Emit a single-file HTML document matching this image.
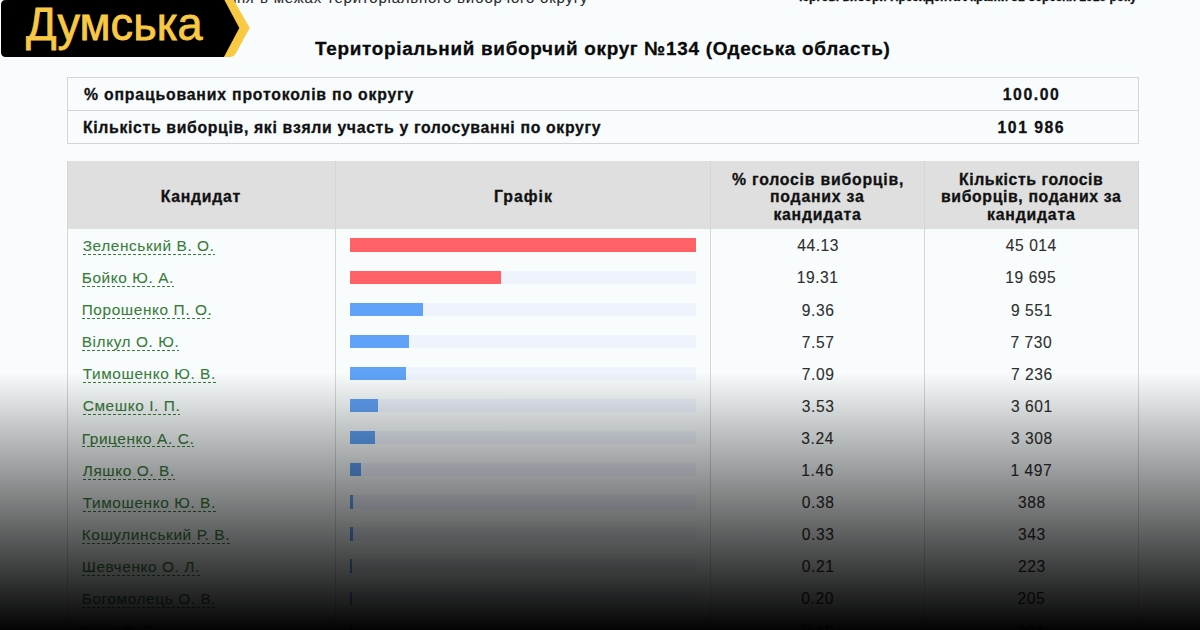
<!DOCTYPE html><html><head><meta charset="utf-8"><style>
*{margin:0;padding:0;box-sizing:border-box}
html,body{width:1200px;height:630px;overflow:hidden;background:#f8fcfd;font-family:"Liberation Sans",sans-serif;color:#111}
.a{position:absolute;white-space:nowrap;line-height:1}
.b{font-weight:bold;-webkit-text-stroke:0.3px currentColor}
.a:not(.b){-webkit-text-stroke:0.1px currentColor}
.ln{position:absolute;background:#d3d5d7}
.name{background-image:repeating-linear-gradient(to right,#3a7d3a 0,#3a7d3a 3px,transparent 3px,transparent 5px);background-repeat:repeat-x;background-size:100% 1px;background-position:0 100%}
.ov{position:absolute;left:0;top:372px;width:1200px;height:258px;background:linear-gradient(to bottom,rgba(0,0,0,0) 0%,rgba(0,0,0,0.99) 100%)}
</style></head><body><div style="position:absolute;left:67px;top:161px;width:1072px;height:68px;background:#dfdfdf"></div>
<div class="ln" style="left:67px;top:77px;width:1072px;height:1px"></div>
<div class="ln" style="left:67px;top:110px;width:1072px;height:1px"></div>
<div class="ln" style="left:67px;top:143px;width:1072px;height:1px"></div>
<div class="ln" style="left:67px;top:77px;width:1px;height:67px"></div>
<div class="ln" style="left:1138px;top:77px;width:1px;height:67px"></div>
<div class="ln" style="left:67px;top:161px;width:1px;height:480px"></div>
<div class="ln" style="left:335px;top:161px;width:1px;height:480px"></div>
<div class="ln" style="left:710px;top:161px;width:1px;height:480px"></div>
<div class="ln" style="left:924px;top:161px;width:1px;height:480px"></div>
<div class="ln" style="left:1138px;top:161px;width:1px;height:480px"></div>
<div style="position:absolute;left:350px;top:238.40px;width:346px;height:13.4px;background:#eef3fc"></div>
<div style="position:absolute;left:350px;top:238.40px;width:346.00px;height:13.4px;background:#ff6266"></div>
<div style="position:absolute;left:350px;top:270.50px;width:346px;height:13.4px;background:#eef3fc"></div>
<div style="position:absolute;left:350px;top:270.50px;width:151.40px;height:13.4px;background:#ff6266"></div>
<div style="position:absolute;left:350px;top:302.60px;width:346px;height:13.4px;background:#eef3fc"></div>
<div style="position:absolute;left:350px;top:302.60px;width:73.39px;height:13.4px;background:#5fa2f7"></div>
<div style="position:absolute;left:350px;top:334.70px;width:346px;height:13.4px;background:#eef3fc"></div>
<div style="position:absolute;left:350px;top:334.70px;width:59.35px;height:13.4px;background:#5fa2f7"></div>
<div style="position:absolute;left:350px;top:366.80px;width:346px;height:13.4px;background:#eef3fc"></div>
<div style="position:absolute;left:350px;top:366.80px;width:55.59px;height:13.4px;background:#5fa2f7"></div>
<div style="position:absolute;left:350px;top:398.90px;width:346px;height:13.4px;background:#eef3fc"></div>
<div style="position:absolute;left:350px;top:398.90px;width:27.68px;height:13.4px;background:#5fa2f7"></div>
<div style="position:absolute;left:350px;top:431.00px;width:346px;height:13.4px;background:#eef3fc"></div>
<div style="position:absolute;left:350px;top:431.00px;width:25.40px;height:13.4px;background:#5fa2f7"></div>
<div style="position:absolute;left:350px;top:463.10px;width:346px;height:13.4px;background:#eef3fc"></div>
<div style="position:absolute;left:350px;top:463.10px;width:11.45px;height:13.4px;background:#5fa2f7"></div>
<div style="position:absolute;left:350px;top:495.20px;width:346px;height:13.4px;background:#eef3fc"></div>
<div style="position:absolute;left:350px;top:495.20px;width:2.98px;height:13.4px;background:#5fa2f7"></div>
<div style="position:absolute;left:350px;top:527.30px;width:346px;height:13.4px;background:#eef3fc"></div>
<div style="position:absolute;left:350px;top:527.30px;width:2.59px;height:13.4px;background:#5fa2f7"></div>
<div style="position:absolute;left:350px;top:559.40px;width:346px;height:13.4px;background:#eef3fc"></div>
<div style="position:absolute;left:350px;top:559.40px;width:1.65px;height:13.4px;background:#5fa2f7"></div>
<div style="position:absolute;left:350px;top:591.50px;width:346px;height:13.4px;background:#eef3fc"></div>
<div style="position:absolute;left:350px;top:591.50px;width:1.60px;height:13.4px;background:#5fa2f7"></div>
<div style="position:absolute;left:350px;top:623.60px;width:346px;height:13.4px;background:#eef3fc"></div>
<div style="position:absolute;left:350px;top:623.60px;width:1.60px;height:13.4px;background:#5fa2f7"></div>
<div class="a b" style="left:315.00px;top:40.00px;font-size:18.9px;letter-spacing:0.697px;color:#0a0a0a">Територіальний виборчий округ №134 (Одеська область)</div>
<div class="a b" style="left:84.00px;top:87.33px;font-size:15.8px;letter-spacing:0.812px;color:#111">% опрацьованих протоколів по округу</div>
<div class="a b" style="left:83.00px;top:120.33px;font-size:15.8px;letter-spacing:0.661px;color:#111">Кількість виборців, які взяли участь у голосуванні по округу</div>
<div class="a b" style="left:1002.80px;top:87.33px;font-size:15.8px;letter-spacing:1.534px;color:#111">100.00</div>
<div class="a b" style="left:997.60px;top:120.33px;font-size:15.8px;letter-spacing:1.481px;color:#111">101 986</div>
<div class="a b" style="left:160.70px;top:189.13px;font-size:15.8px;letter-spacing:0.712px;color:#111">Кандидат</div>
<div class="a b" style="left:494.00px;top:189.13px;font-size:15.8px;letter-spacing:1.000px;color:#111">Графік</div>
<div class="a b" style="left:732.00px;top:171.73px;font-size:15.8px;letter-spacing:0.784px;color:#111">% голосів виборців,</div>
<div class="a b" style="left:770.00px;top:189.13px;font-size:15.8px;letter-spacing:0.793px;color:#111">поданих за</div>
<div class="a b" style="left:773.40px;top:206.53px;font-size:15.8px;letter-spacing:0.760px;color:#111">кандидата</div>
<div class="a b" style="left:959.00px;top:171.73px;font-size:15.8px;letter-spacing:0.577px;color:#111">Кількість голосів</div>
<div class="a b" style="left:941.00px;top:189.13px;font-size:15.8px;letter-spacing:0.635px;color:#111">виборців, поданих за</div>
<div class="a b" style="left:987.00px;top:206.53px;font-size:15.8px;letter-spacing:0.810px;color:#111">кандидата</div>
<div class="a b" style="left:794.00px;top:-9.16px;font-size:12px;letter-spacing:-0.018px;color:#111">Чергові вибори Президента України 31 березня 2019 року</div>
<div class="a" style="left:164.37px;top:-10.20px;font-size:15px;letter-spacing:0.300px;color:#2a2a2a">голосування</div>
<div class="a" style="left:260.00px;top:-10.20px;font-size:15px;letter-spacing:0.782px;color:#2a2a2a">в межах територіального виборчого округу</div>
<div class="a name" style="left:82.70px;top:237.96px;font-size:15.4px;letter-spacing:0.594px;color:#3a7d3a;padding-bottom:1.5px">Зеленський В. О.</div>
<div class="a" style="left:797.20px;top:238.39px;font-size:15.6px;letter-spacing:0.562px;color:#2e2e2e">44.13</div>
<div class="a" style="left:1005.78px;top:238.39px;font-size:15.6px;letter-spacing:0.562px;color:#2e2e2e">45 014</div>
<div class="a name" style="left:81.70px;top:270.06px;font-size:15.4px;letter-spacing:0.594px;color:#3a7d3a;padding-bottom:1.5px">Бойко Ю. А.</div>
<div class="a" style="left:796.70px;top:270.49px;font-size:15.6px;letter-spacing:0.562px;color:#2e2e2e">19.31</div>
<div class="a" style="left:1005.28px;top:270.49px;font-size:15.6px;letter-spacing:0.562px;color:#2e2e2e">19 695</div>
<div class="a name" style="left:81.70px;top:302.16px;font-size:15.4px;letter-spacing:0.594px;color:#3a7d3a;padding-bottom:1.5px">Порошенко П. О.</div>
<div class="a" style="left:801.82px;top:302.59px;font-size:15.6px;letter-spacing:0.562px;color:#2e2e2e">9.36</div>
<div class="a" style="left:1010.90px;top:302.59px;font-size:15.6px;letter-spacing:0.562px;color:#2e2e2e">9 551</div>
<div class="a name" style="left:81.70px;top:334.26px;font-size:15.4px;letter-spacing:0.594px;color:#3a7d3a;padding-bottom:1.5px">Вілкул О. Ю.</div>
<div class="a" style="left:801.82px;top:334.69px;font-size:15.6px;letter-spacing:0.562px;color:#2e2e2e">7.57</div>
<div class="a" style="left:1010.40px;top:334.69px;font-size:15.6px;letter-spacing:0.562px;color:#2e2e2e">7 730</div>
<div class="a name" style="left:82.70px;top:366.36px;font-size:15.4px;letter-spacing:0.594px;color:#3a7d3a;padding-bottom:1.5px">Тимошенко Ю. В.</div>
<div class="a" style="left:801.82px;top:366.79px;font-size:15.6px;letter-spacing:0.562px;color:#2e2e2e">7.09</div>
<div class="a" style="left:1010.90px;top:366.79px;font-size:15.6px;letter-spacing:0.562px;color:#2e2e2e">7 236</div>
<div class="a name" style="left:82.70px;top:398.46px;font-size:15.4px;letter-spacing:0.594px;color:#3a7d3a;padding-bottom:1.5px">Смешко І. П.</div>
<div class="a" style="left:801.82px;top:398.89px;font-size:15.6px;letter-spacing:0.562px;color:#2e2e2e">3.53</div>
<div class="a" style="left:1010.90px;top:398.89px;font-size:15.6px;letter-spacing:0.562px;color:#2e2e2e">3 601</div>
<div class="a name" style="left:81.70px;top:430.56px;font-size:15.4px;letter-spacing:0.594px;color:#3a7d3a;padding-bottom:1.5px">Гриценко А. С.</div>
<div class="a" style="left:801.32px;top:430.99px;font-size:15.6px;letter-spacing:0.562px;color:#2e2e2e">3.24</div>
<div class="a" style="left:1010.90px;top:430.99px;font-size:15.6px;letter-spacing:0.562px;color:#2e2e2e">3 308</div>
<div class="a name" style="left:82.70px;top:462.66px;font-size:15.4px;letter-spacing:0.594px;color:#3a7d3a;padding-bottom:1.5px">Ляшко О. В.</div>
<div class="a" style="left:801.32px;top:463.09px;font-size:15.6px;letter-spacing:0.562px;color:#2e2e2e">1.46</div>
<div class="a" style="left:1010.40px;top:463.09px;font-size:15.6px;letter-spacing:0.562px;color:#2e2e2e">1 497</div>
<div class="a name" style="left:82.70px;top:494.76px;font-size:15.4px;letter-spacing:0.594px;color:#3a7d3a;padding-bottom:1.5px">Тимошенко Ю. В.</div>
<div class="a" style="left:801.82px;top:495.19px;font-size:15.6px;letter-spacing:0.562px;color:#2e2e2e">0.38</div>
<div class="a" style="left:1017.97px;top:495.19px;font-size:15.6px;letter-spacing:0.562px;color:#2e2e2e">388</div>
<div class="a name" style="left:81.70px;top:526.86px;font-size:15.4px;letter-spacing:0.594px;color:#3a7d3a;padding-bottom:1.5px">Кошулинський Р. В.</div>
<div class="a" style="left:801.82px;top:527.29px;font-size:15.6px;letter-spacing:0.562px;color:#2e2e2e">0.33</div>
<div class="a" style="left:1017.97px;top:527.29px;font-size:15.6px;letter-spacing:0.562px;color:#2e2e2e">343</div>
<div class="a name" style="left:81.70px;top:558.96px;font-size:15.4px;letter-spacing:0.594px;color:#3a7d3a;padding-bottom:1.5px">Шевченко О. Л.</div>
<div class="a" style="left:801.82px;top:559.39px;font-size:15.6px;letter-spacing:0.562px;color:#2e2e2e">0.21</div>
<div class="a" style="left:1017.97px;top:559.39px;font-size:15.6px;letter-spacing:0.562px;color:#2e2e2e">223</div>
<div class="a name" style="left:81.70px;top:591.06px;font-size:15.4px;letter-spacing:0.594px;color:#3a7d3a;padding-bottom:1.5px">Богомолець О. В.</div>
<div class="a" style="left:801.32px;top:591.49px;font-size:15.6px;letter-spacing:0.562px;color:#2e2e2e">0.20</div>
<div class="a" style="left:1017.47px;top:591.49px;font-size:15.6px;letter-spacing:0.562px;color:#2e2e2e">205</div>
<div class="a name" style="left:81.70px;top:623.16px;font-size:15.4px;letter-spacing:0.594px;color:#3a7d3a;padding-bottom:1.5px">Гнап Д. Г.</div>
<div class="a" style="left:801.82px;top:623.59px;font-size:15.6px;letter-spacing:0.562px;color:#2e2e2e">0.19</div>
<div class="a" style="left:1017.47px;top:623.59px;font-size:15.6px;letter-spacing:0.562px;color:#2e2e2e">191</div>
<div class="ov"></div>
<svg style="position:absolute;left:0;top:0" width="260" height="60" viewBox="0 0 260 60">
<path d="M6 0 H233.7 L249.7 28 L236 53 Q234 57 230 57 H6 Q1 57 1 52 V5 Q1 0 6 0 Z" fill="#f9c944"/>
<path d="M6 0 H224.4 L239.3 28 L223.9 57 H6 Q1 57 1 52 V5 Q1 0 6 0 Z" fill="#000"/>
</svg>
<div class="a" style="left:26px;top:-0.5px;font-size:47px;letter-spacing:0px;color:#f9c944;transform:scaleX(0.96);transform-origin:0 0;-webkit-text-stroke:0.8px #f9c944">Думська</div></body></html>
